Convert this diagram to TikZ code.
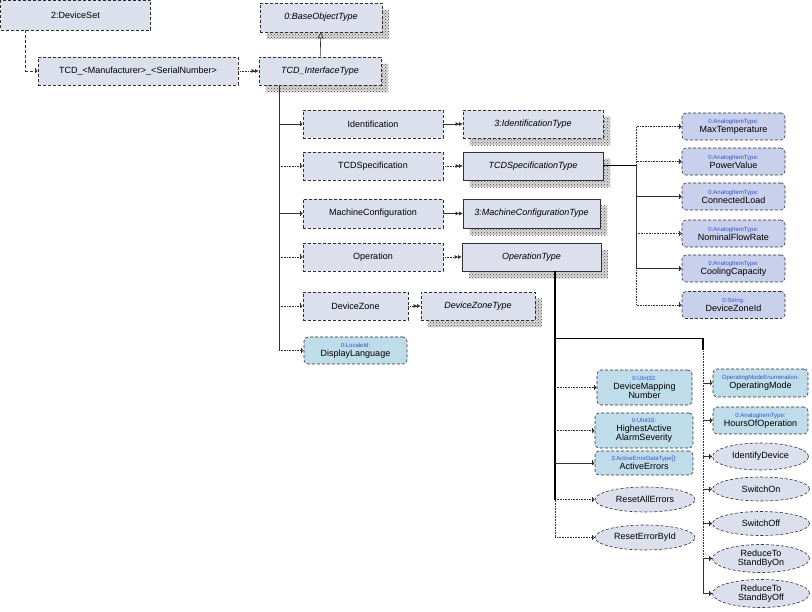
\documentclass[tikz,border=0pt]{standalone}
\usepackage{fontspec}
\setmainfont{Liberation Sans}
\usetikzlibrary{arrows.meta,shapes.geometric,patterns,backgrounds}
\definecolor{boxfill}{HTML}{DCDFEC}
\definecolor{varfill}{HTML}{BFDCEA}
\definecolor{aifill}{HTML}{C9D0EC}
\definecolor{methfill}{HTML}{DCE0EC}
\definecolor{lblblue}{HTML}{3355CC}
\definecolor{edgecol}{HTML}{303030}
\newcommand{\lbl}[1]{{\fontsize{6}{6.5}\selectfont\color{lblblue}#1}}
\newcommand{\shad}[1]{\fill[gray!30] ([shift={(7pt,-7pt)}]#1.south west) rectangle ([shift={(7pt,-7pt)}]#1.north east);
\fill[pattern=crosshatch dots, pattern color=gray!60!black] ([shift={(7pt,-7pt)}]#1.south west) rectangle ([shift={(7pt,-7pt)}]#1.north east);}
\tikzset{
  base/.style={font=\fontsize{9}{10}\selectfont, text=black, inner sep=0pt, align=center, line width=0.6pt},
  objbox/.style={base, rectangle, draw=edgecol, densely dashed, fill=boxfill},
  typebox/.style={objbox, font=\fontsize{9}{10}\selectfont\itshape},
  soltype/.style={typebox, solid},
  varbox/.style={base, rectangle, rounded corners=4pt, draw=edgecol, densely dashed, fill=varfill},
  aibox/.style={base, rectangle, rounded corners=4pt, draw=edgecol, densely dashed, fill=aifill, minimum width=103pt, minimum height=27pt},
  methbox/.style={base, ellipse, draw=edgecol, densely dashed, fill=methfill},
  conn/.style={draw=edgecol, line width=0.6pt},
  comp/.style={conn, -{Bar[width=5pt,line width=0.6pt]Straight Barb[length=1.5pt,width=3pt,line width=0.6pt]}},
  ocomp/.style={comp, densely dotted},
  tdef/.style={conn, -{Latex[length=3.5pt,width=4pt]Latex[length=3.5pt,width=4pt]}},
  otdef/.style={tdef, densely dotted},
  inh/.style={conn, -{Triangle[open,length=6pt,width=6pt,line width=0.6pt]}},
  trunk/.style={draw=black, line width=1.4pt},
}
\begin{document}
\begin{tikzpicture}[x=1pt,y=-1pt]
\useasboundingbox (0,0) rectangle (812,612);
% top row
\node[objbox, minimum width=150pt, minimum height=30pt] (devset) at (75.5,15) {2:DeviceSet};
\node[objbox, minimum width=200pt, minimum height=28pt] (tcd) at (138,71) {TCD\_<Manufacturer>\_<SerialNumber>};
\node[typebox, minimum width=122pt, minimum height=29pt] (base) at (321,17.5) {0:BaseObjectType};
\node[typebox, minimum width=122pt, minimum height=28pt] (ifc) at (320,71) {TCD\_InterfaceType};
% middle column
\node[objbox, minimum width=140pt, minimum height=28pt] (ident) at (373,124) {Identification};
\node[typebox, minimum width=140pt, minimum height=28pt] (identT) at (533,124) {3:IdentificationType};
\node[objbox, minimum width=140pt, minimum height=28pt] (spec) at (373,166) {TCDSpecification};
\node[soltype, minimum width=140pt, minimum height=28pt] (specT) at (533,166) {TCDSpecificationType};
\node[objbox, minimum width=140pt, minimum height=29pt] (mc) at (373,213.5) {MachineConfiguration};
\node[soltype, minimum width=137pt, minimum height=29pt] (mcT) at (531.5,213.5) {3:MachineConfigurationType};
\node[objbox, minimum width=140pt, minimum height=28pt] (op) at (373,257) {Operation};
\node[soltype, minimum width=139pt, minimum height=28pt] (opT) at (531.5,257) {OperationType};
\node[objbox, minimum width=105pt, minimum height=28pt] (dz) at (355.5,306) {DeviceZone};
\node[typebox, minimum width=114pt, minimum height=28pt] (dzT) at (478,306) {DeviceZoneType};
\node[varbox, minimum width=103pt, minimum height=27pt] (dl) at (355.5,350.5) {\lbl{0:LocaleId:}\\[-1pt]DisplayLanguage};
% right column: specification variables
\node[aibox] (maxT) at (733.5,126.5) {\lbl{0:AnalogItemType:}\\[-1pt]MaxTemperature};
\node[aibox] (pv) at (733.5,161.5) {\lbl{0:AnalogItemType:}\\[-1pt]PowerValue};
\node[aibox] (cl) at (733.5,196.5) {\lbl{0:AnalogItemType:}\\[-1pt]ConnectedLoad};
\node[aibox] (nfr) at (733.5,233.5) {\lbl{0:AnalogItemType:}\\[-1pt]NominalFlowRate};
\node[aibox] (cc) at (733.5,268.5) {\lbl{0:AnalogItemType:}\\[-1pt]CoolingCapacity};
\node[aibox] (dzid) at (733.5,305) {\lbl{0:String:}\\[-1pt]DeviceZoneId};
% operation children, left
\node[varbox, minimum width=95pt, minimum height=35pt] (dmn) at (644.5,387.5) {\lbl{0:UInt32:}\\[-1pt]DeviceMapping\\[-1pt]Number};
\node[varbox, minimum width=98pt, minimum height=35pt] (has) at (644,430.5) {\lbl{0:UInt16:}\\[-1pt]HighestActive\\[-1pt]AlarmSeverity};
\node[varbox, minimum width=98pt, minimum height=24pt] (ae) at (644,463) {\lbl{3:ActiveErrorDataType[]:}\\[-1pt]ActiveErrors};
\node[methbox, minimum width=100pt, minimum height=25pt] (rae) at (645,499.5) {ResetAllErrors};
\node[methbox, minimum width=100pt, minimum height=25pt] (rebi) at (645,537.5) {ResetErrorById};
% operation children, right
\node[varbox, minimum width=95pt, minimum height=28pt] (om) at (760.5,383) {\lbl{OperatingModeEnumeration:}\\[-1pt]OperatingMode};
\node[varbox, minimum width=95pt, minimum height=27pt] (hoo) at (760.5,420.5) {\lbl{0:AnalogItemType:}\\[-1pt]HoursOfOperation};
\node[methbox, minimum width=96pt, minimum height=27pt] (idd) at (760.5,456.5) {IdentifyDevice};
\node[methbox, minimum width=97pt, minimum height=24pt] (son) at (761,489) {SwitchOn};
\node[methbox, minimum width=97pt, minimum height=24pt] (soff) at (761,523.5) {SwitchOff};
\node[methbox, minimum width=97pt, minimum height=28pt] (rsbon) at (761,558.5) {ReduceTo\\[-1pt]StandByOn};
\node[methbox, minimum width=97pt, minimum height=28pt] (rsboff) at (761,593.5) {ReduceTo\\[-1pt]StandByOff};
% shadows
\begin{scope}[on background layer]
\shad{base}\shad{ifc}\shad{identT}\shad{specT}\shad{mcT}\shad{opT}\shad{dzT}
\end{scope}
% top connectors
\draw[comp, densely dashed] ([xshift=-50pt]devset.south) |- (tcd.west);
\draw[otdef] (tcd) -- (ifc);
\draw[inh] (ifc) -- (base);
% interface children
\coordinate (i0) at ([xshift=-41pt]ifc.south);
\draw[conn] (i0) -- (i0 |- dl.west);
\draw[comp] (i0 |- ident.west) -- (ident.west);
\draw[ocomp] (i0 |- spec.west) -- (spec.west);
\draw[comp] (i0 |- mc.west) -- (mc.west);
\draw[ocomp] (i0 |- op.west) -- (op.west);
\draw[ocomp] (i0 |- dz.west) -- (dz.west);
\draw[ocomp] (i0 |- dl.west) -- (dl.west);
% type definitions
\draw[tdef] (ident) -- (identT);
\draw[otdef] (spec) -- (specT);
\draw[tdef] (mc) -- (mcT);
\draw[otdef] (op) -- (opT);
\draw[otdef] (dz) -- (dzT);
% specification variables
\coordinate (j1) at ([xshift=33pt]specT.east);
\draw[draw=black, line width=1pt] (specT.east) -- (j1);
\draw[ocomp] (j1) |- (maxT.west);
\draw[ocomp] (j1) |- (pv.west);
\draw[ocomp] (j1) |- (nfr.west);
\draw[ocomp] (j1) |- (dzid.west);
\draw[comp] (j1) |- (cl.west);
\draw[comp] (j1) |- (cc.west);
% operation children
\coordinate (j2) at ([xshift=23.5pt]opT.south);
\coordinate (m) at ([xshift=148pt,yshift=-67pt]j2);
\draw[ocomp] (j2 |- rae.west) |- (rebi.west);
\draw[trunk] (j2) -- (j2 |- rae.west);
\draw[ocomp] (j2 |- dmn.west) -- (dmn.west);
\draw[ocomp] (j2 |- has.west) -- (has.west);
\draw[comp] (j2 |- ae.west) -- (ae.west);
\draw[ocomp] (j2 |- rae.west) -- (rae.west);
\draw[conn, densely dotted] (m) -- (m |- rsbon.west);
\draw[comp] (m |- rsbon.west) |- (rsboff.west);
\draw[trunk] (j2 |- m) -- (m) -- ([yshift=-12pt]m);
\draw[comp] (m |- om.west) -- (om.west);
\draw[comp] (m |- hoo.west) -- (hoo.west);
\draw[comp] (m |- idd.west) -- (idd.west);
\draw[comp] (m |- son.west) -- (son.west);
\draw[comp] (m |- soff.west) -- (soff.west);
\draw[comp] (m |- rsbon.west) -- (rsbon.west);
\end{tikzpicture}
\end{document}
